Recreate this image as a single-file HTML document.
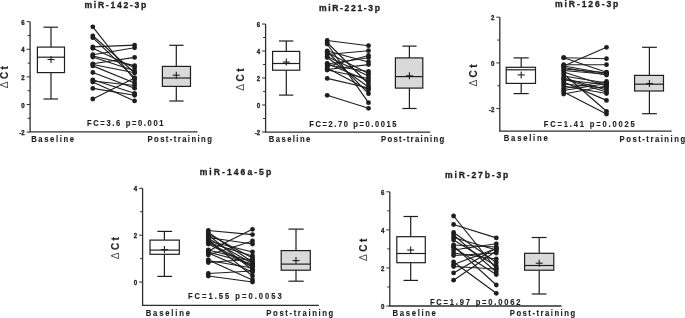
<!DOCTYPE html>
<html><head><meta charset="utf-8"><style>
html,body{margin:0;padding:0;background:#fff;}
body{width:685px;height:318px;overflow:hidden;}
svg{display:block;font-family:"Liberation Sans", sans-serif;will-change:transform;}
text{stroke:#1e1e1e;stroke-width:0.3px;}
text.l{stroke-width:0.12px;}
</style></head><body>
<svg width="685" height="318" viewBox="0 0 685 318">
<rect width="685" height="318" fill="#fff"/>
<line x1="30.1" y1="21.69999999999999" x2="30.1" y2="131.9" stroke="#2e2e2e" stroke-width="1.3"/>
<line x1="29.5" y1="131.9" x2="197.5" y2="131.9" stroke="#2e2e2e" stroke-width="1.3"/>
<line x1="26.6" y1="132.1" x2="30.1" y2="132.1" stroke="#2e2e2e" stroke-width="1"/>
<text transform="translate(24.700000000000003,135.1) scale(1,1.12)" x="0" y="0" font-size="6.1" font-weight="bold" fill="#1e1e1e" text-anchor="end">-2</text>
<line x1="26.6" y1="104.5" x2="30.1" y2="104.5" stroke="#2e2e2e" stroke-width="1"/>
<text transform="translate(24.700000000000003,107.5) scale(1,1.12)" x="0" y="0" font-size="6.1" font-weight="bold" fill="#1e1e1e" text-anchor="end">0</text>
<line x1="26.6" y1="76.9" x2="30.1" y2="76.9" stroke="#2e2e2e" stroke-width="1"/>
<text transform="translate(24.700000000000003,79.9) scale(1,1.12)" x="0" y="0" font-size="6.1" font-weight="bold" fill="#1e1e1e" text-anchor="end">2</text>
<line x1="26.6" y1="49.3" x2="30.1" y2="49.3" stroke="#2e2e2e" stroke-width="1"/>
<text transform="translate(24.700000000000003,52.3) scale(1,1.12)" x="0" y="0" font-size="6.1" font-weight="bold" fill="#1e1e1e" text-anchor="end">4</text>
<line x1="26.6" y1="21.69999999999999" x2="30.1" y2="21.69999999999999" stroke="#2e2e2e" stroke-width="1"/>
<text transform="translate(24.700000000000003,24.69999999999999) scale(1,1.12)" x="0" y="0" font-size="6.1" font-weight="bold" fill="#1e1e1e" text-anchor="end">6</text>
<line x1="27.6" y1="118.3" x2="30.1" y2="118.3" stroke="#2e2e2e" stroke-width="1"/>
<line x1="27.6" y1="90.7" x2="30.1" y2="90.7" stroke="#2e2e2e" stroke-width="1"/>
<line x1="27.6" y1="63.099999999999994" x2="30.1" y2="63.099999999999994" stroke="#2e2e2e" stroke-width="1"/>
<line x1="27.6" y1="35.5" x2="30.1" y2="35.5" stroke="#2e2e2e" stroke-width="1"/>
<line x1="51" y1="27.2" x2="51" y2="47.1" stroke="#1e1e1e" stroke-width="1.2"/>
<line x1="51" y1="72.6" x2="51" y2="99" stroke="#1e1e1e" stroke-width="1.2"/>
<line x1="43.5" y1="27.2" x2="58" y2="27.2" stroke="#1e1e1e" stroke-width="1.2"/>
<line x1="43.5" y1="99" x2="58" y2="99" stroke="#1e1e1e" stroke-width="1.2"/>
<rect x="37.4" y="47.1" width="27.1" height="25.499999999999993" fill="#ffffff" stroke="#1e1e1e" stroke-width="1.2"/>
<line x1="37.4" y1="57.2" x2="64.5" y2="57.2" stroke="#1e1e1e" stroke-width="1.2"/>
<line x1="47.5" y1="59.5" x2="54.5" y2="59.5" stroke="#1e1e1e" stroke-width="1.1"/>
<line x1="51" y1="56.0" x2="51" y2="63.0" stroke="#1e1e1e" stroke-width="1.1"/>
<line x1="176.3" y1="45.3" x2="176.3" y2="66.4" stroke="#1e1e1e" stroke-width="1.2"/>
<line x1="176.3" y1="86.4" x2="176.3" y2="101" stroke="#1e1e1e" stroke-width="1.2"/>
<line x1="169.3" y1="45.3" x2="183.6" y2="45.3" stroke="#1e1e1e" stroke-width="1.2"/>
<line x1="169.3" y1="101" x2="183.6" y2="101" stroke="#1e1e1e" stroke-width="1.2"/>
<rect x="162.4" y="66.4" width="28.099999999999994" height="20.0" fill="#d9d9d9" stroke="#1e1e1e" stroke-width="1.2"/>
<line x1="162.4" y1="78" x2="190.5" y2="78" stroke="#1e1e1e" stroke-width="1.2"/>
<line x1="172.8" y1="75.2" x2="179.8" y2="75.2" stroke="#1e1e1e" stroke-width="1.1"/>
<line x1="176.3" y1="71.7" x2="176.3" y2="78.7" stroke="#1e1e1e" stroke-width="1.1"/>
<line x1="92.8" y1="26.8" x2="134.6" y2="80" stroke="#1e1e1e" stroke-width="1.15"/>
<line x1="92.8" y1="35.8" x2="134.6" y2="72.8" stroke="#1e1e1e" stroke-width="1.15"/>
<line x1="92.8" y1="37.7" x2="134.6" y2="77.9" stroke="#1e1e1e" stroke-width="1.15"/>
<line x1="92.8" y1="46.9" x2="134.6" y2="45.1" stroke="#1e1e1e" stroke-width="1.15"/>
<line x1="92.8" y1="48.3" x2="134.6" y2="67.7" stroke="#1e1e1e" stroke-width="1.15"/>
<line x1="92.8" y1="54.7" x2="134.6" y2="47.8" stroke="#1e1e1e" stroke-width="1.15"/>
<line x1="92.8" y1="57" x2="134.6" y2="70.7" stroke="#1e1e1e" stroke-width="1.15"/>
<line x1="92.8" y1="56" x2="134.6" y2="65.6" stroke="#1e1e1e" stroke-width="1.15"/>
<line x1="92.8" y1="63.8" x2="134.6" y2="57.4" stroke="#1e1e1e" stroke-width="1.15"/>
<line x1="92.8" y1="65.9" x2="134.6" y2="83" stroke="#1e1e1e" stroke-width="1.15"/>
<line x1="92.8" y1="64.5" x2="134.6" y2="72.8" stroke="#1e1e1e" stroke-width="1.15"/>
<line x1="92.8" y1="72.5" x2="134.6" y2="88.2" stroke="#1e1e1e" stroke-width="1.15"/>
<line x1="92.8" y1="79.8" x2="134.6" y2="93.3" stroke="#1e1e1e" stroke-width="1.15"/>
<line x1="92.8" y1="81" x2="134.6" y2="85.5" stroke="#1e1e1e" stroke-width="1.15"/>
<line x1="92.8" y1="82" x2="134.6" y2="100.9" stroke="#1e1e1e" stroke-width="1.15"/>
<line x1="92.8" y1="88.4" x2="134.6" y2="95.3" stroke="#1e1e1e" stroke-width="1.15"/>
<line x1="92.8" y1="99" x2="134.6" y2="77.9" stroke="#1e1e1e" stroke-width="1.15"/>
<circle cx="92.8" cy="26.8" r="2.4" fill="#1e1e1e"/>
<circle cx="134.6" cy="80" r="2.4" fill="#1e1e1e"/>
<circle cx="92.8" cy="35.8" r="2.4" fill="#1e1e1e"/>
<circle cx="134.6" cy="72.8" r="2.4" fill="#1e1e1e"/>
<circle cx="92.8" cy="37.7" r="2.4" fill="#1e1e1e"/>
<circle cx="134.6" cy="77.9" r="2.4" fill="#1e1e1e"/>
<circle cx="92.8" cy="46.9" r="2.4" fill="#1e1e1e"/>
<circle cx="134.6" cy="45.1" r="2.4" fill="#1e1e1e"/>
<circle cx="92.8" cy="48.3" r="2.4" fill="#1e1e1e"/>
<circle cx="134.6" cy="67.7" r="2.4" fill="#1e1e1e"/>
<circle cx="92.8" cy="54.7" r="2.4" fill="#1e1e1e"/>
<circle cx="134.6" cy="47.8" r="2.4" fill="#1e1e1e"/>
<circle cx="92.8" cy="57" r="2.4" fill="#1e1e1e"/>
<circle cx="134.6" cy="70.7" r="2.4" fill="#1e1e1e"/>
<circle cx="92.8" cy="56" r="2.4" fill="#1e1e1e"/>
<circle cx="134.6" cy="65.6" r="2.4" fill="#1e1e1e"/>
<circle cx="92.8" cy="63.8" r="2.4" fill="#1e1e1e"/>
<circle cx="134.6" cy="57.4" r="2.4" fill="#1e1e1e"/>
<circle cx="92.8" cy="65.9" r="2.4" fill="#1e1e1e"/>
<circle cx="134.6" cy="83" r="2.4" fill="#1e1e1e"/>
<circle cx="92.8" cy="64.5" r="2.4" fill="#1e1e1e"/>
<circle cx="134.6" cy="72.8" r="2.4" fill="#1e1e1e"/>
<circle cx="92.8" cy="72.5" r="2.4" fill="#1e1e1e"/>
<circle cx="134.6" cy="88.2" r="2.4" fill="#1e1e1e"/>
<circle cx="92.8" cy="79.8" r="2.4" fill="#1e1e1e"/>
<circle cx="134.6" cy="93.3" r="2.4" fill="#1e1e1e"/>
<circle cx="92.8" cy="81" r="2.4" fill="#1e1e1e"/>
<circle cx="134.6" cy="85.5" r="2.4" fill="#1e1e1e"/>
<circle cx="92.8" cy="82" r="2.4" fill="#1e1e1e"/>
<circle cx="134.6" cy="100.9" r="2.4" fill="#1e1e1e"/>
<circle cx="92.8" cy="88.4" r="2.4" fill="#1e1e1e"/>
<circle cx="134.6" cy="95.3" r="2.4" fill="#1e1e1e"/>
<circle cx="92.8" cy="99" r="2.4" fill="#1e1e1e"/>
<circle cx="134.6" cy="77.9" r="2.4" fill="#1e1e1e"/>
<text transform="translate(84.5,8.1) scale(1,1.08)" x="0" y="0" font-size="8.6" font-weight="bold" fill="#1e1e1e" text-anchor="start" textLength="61.7" lengthAdjust="spacing">miR-142-3p</text>
<text transform="translate(87,125.8) scale(1,1.15)" x="0" y="0" font-size="7.6" font-weight="bold" fill="#1e1e1e" text-anchor="start" textLength="76.5" lengthAdjust="spacing" class="l">FC=3.6 p=0.001</text>
<text transform="translate(31.2,141.9) scale(1,1.15)" x="0" y="0" font-size="7.7" font-weight="bold" fill="#1e1e1e" text-anchor="start" textLength="42.8" lengthAdjust="spacing" class="l">Baseline</text>
<text transform="translate(147.5,141.9) scale(1,1.15)" x="0" y="0" font-size="7.7" font-weight="bold" fill="#1e1e1e" text-anchor="start" textLength="64.4" lengthAdjust="spacing" class="l">Post-training</text>
<g transform="translate(7.8,88.3) rotate(-90)"><text x="0" y="0" font-size="10.4" font-weight="normal" fill="#4a4a4a" style="stroke:none">&#916;</text><text class="l" x="9.2" y="0" font-size="10" font-weight="bold" fill="#1e1e1e">C</text><text class="l" x="18.9" y="0" font-size="10" font-weight="bold" fill="#1e1e1e">t</text></g>
<line x1="265.6" y1="24.0" x2="265.6" y2="132.2" stroke="#2e2e2e" stroke-width="1.3"/>
<line x1="265.0" y1="132.2" x2="430.3" y2="132.2" stroke="#2e2e2e" stroke-width="1.3"/>
<line x1="262.1" y1="132.0" x2="265.6" y2="132.0" stroke="#2e2e2e" stroke-width="1"/>
<text transform="translate(260.20000000000005,135.0) scale(1,1.12)" x="0" y="0" font-size="6.1" font-weight="bold" fill="#1e1e1e" text-anchor="end">-2</text>
<line x1="262.1" y1="105.0" x2="265.6" y2="105.0" stroke="#2e2e2e" stroke-width="1"/>
<text transform="translate(260.20000000000005,108.0) scale(1,1.12)" x="0" y="0" font-size="6.1" font-weight="bold" fill="#1e1e1e" text-anchor="end">0</text>
<line x1="262.1" y1="78.0" x2="265.6" y2="78.0" stroke="#2e2e2e" stroke-width="1"/>
<text transform="translate(260.20000000000005,81.0) scale(1,1.12)" x="0" y="0" font-size="6.1" font-weight="bold" fill="#1e1e1e" text-anchor="end">2</text>
<line x1="262.1" y1="51.0" x2="265.6" y2="51.0" stroke="#2e2e2e" stroke-width="1"/>
<text transform="translate(260.20000000000005,54.0) scale(1,1.12)" x="0" y="0" font-size="6.1" font-weight="bold" fill="#1e1e1e" text-anchor="end">4</text>
<line x1="262.1" y1="24.0" x2="265.6" y2="24.0" stroke="#2e2e2e" stroke-width="1"/>
<text transform="translate(260.20000000000005,27.0) scale(1,1.12)" x="0" y="0" font-size="6.1" font-weight="bold" fill="#1e1e1e" text-anchor="end">6</text>
<line x1="263.1" y1="118.5" x2="265.6" y2="118.5" stroke="#2e2e2e" stroke-width="1"/>
<line x1="263.1" y1="91.5" x2="265.6" y2="91.5" stroke="#2e2e2e" stroke-width="1"/>
<line x1="263.1" y1="64.5" x2="265.6" y2="64.5" stroke="#2e2e2e" stroke-width="1"/>
<line x1="263.1" y1="37.5" x2="265.6" y2="37.5" stroke="#2e2e2e" stroke-width="1"/>
<line x1="286.3" y1="41" x2="286.3" y2="51.4" stroke="#1e1e1e" stroke-width="1.2"/>
<line x1="286.3" y1="70.2" x2="286.3" y2="95.1" stroke="#1e1e1e" stroke-width="1.2"/>
<line x1="279" y1="41" x2="293.3" y2="41" stroke="#1e1e1e" stroke-width="1.2"/>
<line x1="279" y1="95.1" x2="293.3" y2="95.1" stroke="#1e1e1e" stroke-width="1.2"/>
<rect x="272.6" y="51.4" width="27.099999999999966" height="18.800000000000004" fill="#ffffff" stroke="#1e1e1e" stroke-width="1.2"/>
<line x1="272.6" y1="63.5" x2="299.7" y2="63.5" stroke="#1e1e1e" stroke-width="1.2"/>
<line x1="282.8" y1="62.1" x2="289.8" y2="62.1" stroke="#1e1e1e" stroke-width="1.1"/>
<line x1="286.3" y1="58.6" x2="286.3" y2="65.6" stroke="#1e1e1e" stroke-width="1.1"/>
<line x1="409.4" y1="46.1" x2="409.4" y2="57.9" stroke="#1e1e1e" stroke-width="1.2"/>
<line x1="409.4" y1="88.1" x2="409.4" y2="108.5" stroke="#1e1e1e" stroke-width="1.2"/>
<line x1="402.4" y1="46.1" x2="416.6" y2="46.1" stroke="#1e1e1e" stroke-width="1.2"/>
<line x1="402.4" y1="108.5" x2="416.6" y2="108.5" stroke="#1e1e1e" stroke-width="1.2"/>
<rect x="395.4" y="57.9" width="27.400000000000034" height="30.199999999999996" fill="#d9d9d9" stroke="#1e1e1e" stroke-width="1.2"/>
<line x1="395.4" y1="76.6" x2="422.8" y2="76.6" stroke="#1e1e1e" stroke-width="1.2"/>
<line x1="405.9" y1="75.8" x2="412.9" y2="75.8" stroke="#1e1e1e" stroke-width="1.1"/>
<line x1="409.4" y1="72.3" x2="409.4" y2="79.3" stroke="#1e1e1e" stroke-width="1.1"/>
<line x1="327.2" y1="40.5" x2="368.5" y2="45.7" stroke="#1e1e1e" stroke-width="1.15"/>
<line x1="327.2" y1="42.5" x2="368.5" y2="84" stroke="#1e1e1e" stroke-width="1.15"/>
<line x1="327.2" y1="44" x2="368.5" y2="102.7" stroke="#1e1e1e" stroke-width="1.15"/>
<line x1="327.2" y1="51" x2="368.5" y2="62" stroke="#1e1e1e" stroke-width="1.15"/>
<line x1="327.2" y1="51.5" x2="368.5" y2="93.7" stroke="#1e1e1e" stroke-width="1.15"/>
<line x1="327.2" y1="52.5" x2="368.5" y2="73.5" stroke="#1e1e1e" stroke-width="1.15"/>
<line x1="327.2" y1="54.5" x2="368.5" y2="50.7" stroke="#1e1e1e" stroke-width="1.15"/>
<line x1="327.2" y1="56.5" x2="368.5" y2="76" stroke="#1e1e1e" stroke-width="1.15"/>
<line x1="327.2" y1="57.5" x2="368.5" y2="87" stroke="#1e1e1e" stroke-width="1.15"/>
<line x1="327.2" y1="63.5" x2="368.5" y2="81" stroke="#1e1e1e" stroke-width="1.15"/>
<line x1="327.2" y1="64" x2="368.5" y2="57.7" stroke="#1e1e1e" stroke-width="1.15"/>
<line x1="327.2" y1="65" x2="368.5" y2="71.5" stroke="#1e1e1e" stroke-width="1.15"/>
<line x1="327.2" y1="66.5" x2="368.5" y2="55.5" stroke="#1e1e1e" stroke-width="1.15"/>
<line x1="327.2" y1="68" x2="368.5" y2="90" stroke="#1e1e1e" stroke-width="1.15"/>
<line x1="327.2" y1="69.5" x2="368.5" y2="64.6" stroke="#1e1e1e" stroke-width="1.15"/>
<line x1="327.2" y1="70" x2="368.5" y2="78.5" stroke="#1e1e1e" stroke-width="1.15"/>
<line x1="327.2" y1="78.4" x2="368.5" y2="88" stroke="#1e1e1e" stroke-width="1.15"/>
<line x1="327.2" y1="95.3" x2="368.5" y2="108.3" stroke="#1e1e1e" stroke-width="1.15"/>
<circle cx="327.2" cy="40.5" r="2.4" fill="#1e1e1e"/>
<circle cx="368.5" cy="45.7" r="2.4" fill="#1e1e1e"/>
<circle cx="327.2" cy="42.5" r="2.4" fill="#1e1e1e"/>
<circle cx="368.5" cy="84" r="2.4" fill="#1e1e1e"/>
<circle cx="327.2" cy="44" r="2.4" fill="#1e1e1e"/>
<circle cx="368.5" cy="102.7" r="2.4" fill="#1e1e1e"/>
<circle cx="327.2" cy="51" r="2.4" fill="#1e1e1e"/>
<circle cx="368.5" cy="62" r="2.4" fill="#1e1e1e"/>
<circle cx="327.2" cy="51.5" r="2.4" fill="#1e1e1e"/>
<circle cx="368.5" cy="93.7" r="2.4" fill="#1e1e1e"/>
<circle cx="327.2" cy="52.5" r="2.4" fill="#1e1e1e"/>
<circle cx="368.5" cy="73.5" r="2.4" fill="#1e1e1e"/>
<circle cx="327.2" cy="54.5" r="2.4" fill="#1e1e1e"/>
<circle cx="368.5" cy="50.7" r="2.4" fill="#1e1e1e"/>
<circle cx="327.2" cy="56.5" r="2.4" fill="#1e1e1e"/>
<circle cx="368.5" cy="76" r="2.4" fill="#1e1e1e"/>
<circle cx="327.2" cy="57.5" r="2.4" fill="#1e1e1e"/>
<circle cx="368.5" cy="87" r="2.4" fill="#1e1e1e"/>
<circle cx="327.2" cy="63.5" r="2.4" fill="#1e1e1e"/>
<circle cx="368.5" cy="81" r="2.4" fill="#1e1e1e"/>
<circle cx="327.2" cy="64" r="2.4" fill="#1e1e1e"/>
<circle cx="368.5" cy="57.7" r="2.4" fill="#1e1e1e"/>
<circle cx="327.2" cy="65" r="2.4" fill="#1e1e1e"/>
<circle cx="368.5" cy="71.5" r="2.4" fill="#1e1e1e"/>
<circle cx="327.2" cy="66.5" r="2.4" fill="#1e1e1e"/>
<circle cx="368.5" cy="55.5" r="2.4" fill="#1e1e1e"/>
<circle cx="327.2" cy="68" r="2.4" fill="#1e1e1e"/>
<circle cx="368.5" cy="90" r="2.4" fill="#1e1e1e"/>
<circle cx="327.2" cy="69.5" r="2.4" fill="#1e1e1e"/>
<circle cx="368.5" cy="64.6" r="2.4" fill="#1e1e1e"/>
<circle cx="327.2" cy="70" r="2.4" fill="#1e1e1e"/>
<circle cx="368.5" cy="78.5" r="2.4" fill="#1e1e1e"/>
<circle cx="327.2" cy="78.4" r="2.4" fill="#1e1e1e"/>
<circle cx="368.5" cy="88" r="2.4" fill="#1e1e1e"/>
<circle cx="327.2" cy="95.3" r="2.4" fill="#1e1e1e"/>
<circle cx="368.5" cy="108.3" r="2.4" fill="#1e1e1e"/>
<text transform="translate(319,10.9) scale(1,1.08)" x="0" y="0" font-size="8.6" font-weight="bold" fill="#1e1e1e" text-anchor="start" textLength="61" lengthAdjust="spacing">miR-221-3p</text>
<text transform="translate(309.3,126.6) scale(1,1.15)" x="0" y="0" font-size="7.6" font-weight="bold" fill="#1e1e1e" text-anchor="start" textLength="87.2" lengthAdjust="spacing" class="l">FC=2.70 p=0.0015</text>
<text transform="translate(268.8,141.9) scale(1,1.15)" x="0" y="0" font-size="7.7" font-weight="bold" fill="#1e1e1e" text-anchor="start" textLength="41.5" lengthAdjust="spacing" class="l">Baseline</text>
<text transform="translate(381,142.1) scale(1,1.15)" x="0" y="0" font-size="7.7" font-weight="bold" fill="#1e1e1e" text-anchor="start" textLength="63.1" lengthAdjust="spacing" class="l">Post-training</text>
<g transform="translate(243.6,90.7) rotate(-90)"><text x="0" y="0" font-size="10.4" font-weight="normal" fill="#4a4a4a" style="stroke:none">&#916;</text><text class="l" x="9.2" y="0" font-size="10" font-weight="bold" fill="#1e1e1e">C</text><text class="l" x="18.9" y="0" font-size="10" font-weight="bold" fill="#1e1e1e">t</text></g>
<line x1="499.8" y1="17.199999999999996" x2="499.8" y2="131.2" stroke="#2e2e2e" stroke-width="1.3"/>
<line x1="499.2" y1="131.2" x2="671.7" y2="131.2" stroke="#2e2e2e" stroke-width="1.3"/>
<line x1="496.3" y1="108.6" x2="499.8" y2="108.6" stroke="#2e2e2e" stroke-width="1"/>
<text transform="translate(494.40000000000003,111.6) scale(1,1.12)" x="0" y="0" font-size="6.1" font-weight="bold" fill="#1e1e1e" text-anchor="end">-2</text>
<line x1="496.3" y1="62.9" x2="499.8" y2="62.9" stroke="#2e2e2e" stroke-width="1"/>
<text transform="translate(494.40000000000003,65.9) scale(1,1.12)" x="0" y="0" font-size="6.1" font-weight="bold" fill="#1e1e1e" text-anchor="end">0</text>
<line x1="496.3" y1="17.199999999999996" x2="499.8" y2="17.199999999999996" stroke="#2e2e2e" stroke-width="1"/>
<text transform="translate(494.40000000000003,20.199999999999996) scale(1,1.12)" x="0" y="0" font-size="6.1" font-weight="bold" fill="#1e1e1e" text-anchor="end">2</text>
<line x1="497.3" y1="85.75" x2="499.8" y2="85.75" stroke="#2e2e2e" stroke-width="1"/>
<line x1="497.3" y1="40.05" x2="499.8" y2="40.05" stroke="#2e2e2e" stroke-width="1"/>
<line x1="521.2" y1="57.9" x2="521.2" y2="67.3" stroke="#1e1e1e" stroke-width="1.2"/>
<line x1="521.2" y1="83.4" x2="521.2" y2="93.6" stroke="#1e1e1e" stroke-width="1.2"/>
<line x1="513.6" y1="57.9" x2="528.7" y2="57.9" stroke="#1e1e1e" stroke-width="1.2"/>
<line x1="513.6" y1="93.6" x2="528.7" y2="93.6" stroke="#1e1e1e" stroke-width="1.2"/>
<rect x="506.2" y="67.3" width="29.30000000000001" height="16.10000000000001" fill="#ffffff" stroke="#1e1e1e" stroke-width="1.2"/>
<line x1="506.2" y1="69.8" x2="535.5" y2="69.8" stroke="#1e1e1e" stroke-width="1.2"/>
<line x1="517.7" y1="74.9" x2="524.7" y2="74.9" stroke="#1e1e1e" stroke-width="1.1"/>
<line x1="521.2" y1="71.4" x2="521.2" y2="78.4" stroke="#1e1e1e" stroke-width="1.1"/>
<line x1="649.4" y1="47.3" x2="649.4" y2="75.4" stroke="#1e1e1e" stroke-width="1.2"/>
<line x1="649.4" y1="91" x2="649.4" y2="113.7" stroke="#1e1e1e" stroke-width="1.2"/>
<line x1="642.1" y1="47.3" x2="656.9" y2="47.3" stroke="#1e1e1e" stroke-width="1.2"/>
<line x1="642.1" y1="113.7" x2="656.9" y2="113.7" stroke="#1e1e1e" stroke-width="1.2"/>
<rect x="634.6" y="75.4" width="28.899999999999977" height="15.599999999999994" fill="#d9d9d9" stroke="#1e1e1e" stroke-width="1.2"/>
<line x1="634.6" y1="84.2" x2="663.5" y2="84.2" stroke="#1e1e1e" stroke-width="1.2"/>
<line x1="645.9" y1="83.5" x2="652.9" y2="83.5" stroke="#1e1e1e" stroke-width="1.1"/>
<line x1="649.4" y1="80.0" x2="649.4" y2="87.0" stroke="#1e1e1e" stroke-width="1.1"/>
<line x1="563.7" y1="57.7" x2="606.5" y2="58.7" stroke="#1e1e1e" stroke-width="1.15"/>
<line x1="563.7" y1="57.7" x2="606.5" y2="72.2" stroke="#1e1e1e" stroke-width="1.15"/>
<line x1="563.7" y1="66" x2="606.5" y2="47.3" stroke="#1e1e1e" stroke-width="1.15"/>
<line x1="563.7" y1="64.7" x2="606.5" y2="64.7" stroke="#1e1e1e" stroke-width="1.15"/>
<line x1="563.7" y1="66" x2="606.5" y2="73.5" stroke="#1e1e1e" stroke-width="1.15"/>
<line x1="563.7" y1="67.5" x2="606.5" y2="75" stroke="#1e1e1e" stroke-width="1.15"/>
<line x1="563.7" y1="69" x2="606.5" y2="72.8" stroke="#1e1e1e" stroke-width="1.15"/>
<line x1="563.7" y1="70.5" x2="606.5" y2="74.2" stroke="#1e1e1e" stroke-width="1.15"/>
<line x1="563.7" y1="72" x2="606.5" y2="86" stroke="#1e1e1e" stroke-width="1.15"/>
<line x1="563.7" y1="74" x2="606.5" y2="111.3" stroke="#1e1e1e" stroke-width="1.15"/>
<line x1="563.7" y1="76" x2="606.5" y2="83" stroke="#1e1e1e" stroke-width="1.15"/>
<line x1="563.7" y1="78" x2="606.5" y2="90" stroke="#1e1e1e" stroke-width="1.15"/>
<line x1="563.7" y1="80" x2="606.5" y2="84.5" stroke="#1e1e1e" stroke-width="1.15"/>
<line x1="563.7" y1="82" x2="606.5" y2="100.4" stroke="#1e1e1e" stroke-width="1.15"/>
<line x1="563.7" y1="84" x2="606.5" y2="88" stroke="#1e1e1e" stroke-width="1.15"/>
<line x1="563.7" y1="88.5" x2="606.5" y2="81.5" stroke="#1e1e1e" stroke-width="1.15"/>
<line x1="563.7" y1="90.5" x2="606.5" y2="83.5" stroke="#1e1e1e" stroke-width="1.15"/>
<line x1="563.7" y1="92" x2="606.5" y2="114" stroke="#1e1e1e" stroke-width="1.15"/>
<line x1="563.7" y1="94" x2="606.5" y2="86" stroke="#1e1e1e" stroke-width="1.15"/>
<line x1="563.7" y1="86" x2="606.5" y2="93.5" stroke="#1e1e1e" stroke-width="1.15"/>
<line x1="563.7" y1="79" x2="606.5" y2="92" stroke="#1e1e1e" stroke-width="1.15"/>
<circle cx="563.7" cy="57.7" r="2.4" fill="#1e1e1e"/>
<circle cx="606.5" cy="58.7" r="2.4" fill="#1e1e1e"/>
<circle cx="563.7" cy="57.7" r="2.4" fill="#1e1e1e"/>
<circle cx="606.5" cy="72.2" r="2.4" fill="#1e1e1e"/>
<circle cx="563.7" cy="66" r="2.4" fill="#1e1e1e"/>
<circle cx="606.5" cy="47.3" r="2.4" fill="#1e1e1e"/>
<circle cx="563.7" cy="64.7" r="2.4" fill="#1e1e1e"/>
<circle cx="606.5" cy="64.7" r="2.4" fill="#1e1e1e"/>
<circle cx="563.7" cy="66" r="2.4" fill="#1e1e1e"/>
<circle cx="606.5" cy="73.5" r="2.4" fill="#1e1e1e"/>
<circle cx="563.7" cy="67.5" r="2.4" fill="#1e1e1e"/>
<circle cx="606.5" cy="75" r="2.4" fill="#1e1e1e"/>
<circle cx="563.7" cy="69" r="2.4" fill="#1e1e1e"/>
<circle cx="606.5" cy="72.8" r="2.4" fill="#1e1e1e"/>
<circle cx="563.7" cy="70.5" r="2.4" fill="#1e1e1e"/>
<circle cx="606.5" cy="74.2" r="2.4" fill="#1e1e1e"/>
<circle cx="563.7" cy="72" r="2.4" fill="#1e1e1e"/>
<circle cx="606.5" cy="86" r="2.4" fill="#1e1e1e"/>
<circle cx="563.7" cy="74" r="2.4" fill="#1e1e1e"/>
<circle cx="606.5" cy="111.3" r="2.4" fill="#1e1e1e"/>
<circle cx="563.7" cy="76" r="2.4" fill="#1e1e1e"/>
<circle cx="606.5" cy="83" r="2.4" fill="#1e1e1e"/>
<circle cx="563.7" cy="78" r="2.4" fill="#1e1e1e"/>
<circle cx="606.5" cy="90" r="2.4" fill="#1e1e1e"/>
<circle cx="563.7" cy="80" r="2.4" fill="#1e1e1e"/>
<circle cx="606.5" cy="84.5" r="2.4" fill="#1e1e1e"/>
<circle cx="563.7" cy="82" r="2.4" fill="#1e1e1e"/>
<circle cx="606.5" cy="100.4" r="2.4" fill="#1e1e1e"/>
<circle cx="563.7" cy="84" r="2.4" fill="#1e1e1e"/>
<circle cx="606.5" cy="88" r="2.4" fill="#1e1e1e"/>
<circle cx="563.7" cy="88.5" r="2.4" fill="#1e1e1e"/>
<circle cx="606.5" cy="81.5" r="2.4" fill="#1e1e1e"/>
<circle cx="563.7" cy="90.5" r="2.4" fill="#1e1e1e"/>
<circle cx="606.5" cy="83.5" r="2.4" fill="#1e1e1e"/>
<circle cx="563.7" cy="92" r="2.4" fill="#1e1e1e"/>
<circle cx="606.5" cy="114" r="2.4" fill="#1e1e1e"/>
<circle cx="563.7" cy="94" r="2.4" fill="#1e1e1e"/>
<circle cx="606.5" cy="86" r="2.4" fill="#1e1e1e"/>
<circle cx="563.7" cy="86" r="2.4" fill="#1e1e1e"/>
<circle cx="606.5" cy="93.5" r="2.4" fill="#1e1e1e"/>
<circle cx="563.7" cy="79" r="2.4" fill="#1e1e1e"/>
<circle cx="606.5" cy="92" r="2.4" fill="#1e1e1e"/>
<text transform="translate(555.1,6.5) scale(1,1.08)" x="0" y="0" font-size="8.6" font-weight="bold" fill="#1e1e1e" text-anchor="start" textLength="63.2" lengthAdjust="spacing">miR-126-3p</text>
<text transform="translate(543.7,126.6) scale(1,1.15)" x="0" y="0" font-size="7.6" font-weight="bold" fill="#1e1e1e" text-anchor="start" textLength="91.1" lengthAdjust="spacing" class="l">FC=1.41 p=0.0025</text>
<text transform="translate(503.8,141.4) scale(1,1.15)" x="0" y="0" font-size="7.7" font-weight="bold" fill="#1e1e1e" text-anchor="start" textLength="43.9" lengthAdjust="spacing" class="l">Baseline</text>
<text transform="translate(619.6,141.5) scale(1,1.15)" x="0" y="0" font-size="7.7" font-weight="bold" fill="#1e1e1e" text-anchor="start" textLength="65.5" lengthAdjust="spacing" class="l">Post-training</text>
<g transform="translate(476.5,86.6) rotate(-90)"><text x="0" y="0" font-size="10.4" font-weight="normal" fill="#4a4a4a" style="stroke:none">&#916;</text><text class="l" x="9.2" y="0" font-size="10" font-weight="bold" fill="#1e1e1e">C</text><text class="l" x="18.9" y="0" font-size="10" font-weight="bold" fill="#1e1e1e">t</text></g>
<line x1="142.6" y1="188.3" x2="142.6" y2="305.3" stroke="#2e2e2e" stroke-width="1.3"/>
<line x1="142.0" y1="305.3" x2="318.9" y2="305.3" stroke="#2e2e2e" stroke-width="1.3"/>
<line x1="139.1" y1="282.1" x2="142.6" y2="282.1" stroke="#2e2e2e" stroke-width="1"/>
<text transform="translate(137.2,285.1) scale(1,1.12)" x="0" y="0" font-size="6.1" font-weight="bold" fill="#1e1e1e" text-anchor="end">0</text>
<line x1="139.1" y1="235.20000000000002" x2="142.6" y2="235.20000000000002" stroke="#2e2e2e" stroke-width="1"/>
<text transform="translate(137.2,238.20000000000002) scale(1,1.12)" x="0" y="0" font-size="6.1" font-weight="bold" fill="#1e1e1e" text-anchor="end">2</text>
<line x1="139.1" y1="188.3" x2="142.6" y2="188.3" stroke="#2e2e2e" stroke-width="1"/>
<text transform="translate(137.2,191.3) scale(1,1.12)" x="0" y="0" font-size="6.1" font-weight="bold" fill="#1e1e1e" text-anchor="end">4</text>
<line x1="140.1" y1="258.65000000000003" x2="142.6" y2="258.65000000000003" stroke="#2e2e2e" stroke-width="1"/>
<line x1="140.1" y1="211.75000000000003" x2="142.6" y2="211.75000000000003" stroke="#2e2e2e" stroke-width="1"/>
<line x1="164.4" y1="231.4" x2="164.4" y2="240.1" stroke="#1e1e1e" stroke-width="1.2"/>
<line x1="164.4" y1="254.3" x2="164.4" y2="276.4" stroke="#1e1e1e" stroke-width="1.2"/>
<line x1="157.4" y1="231.4" x2="172.1" y2="231.4" stroke="#1e1e1e" stroke-width="1.2"/>
<line x1="157.4" y1="276.4" x2="172.1" y2="276.4" stroke="#1e1e1e" stroke-width="1.2"/>
<rect x="150" y="240.1" width="29.30000000000001" height="14.200000000000017" fill="#ffffff" stroke="#1e1e1e" stroke-width="1.2"/>
<line x1="150" y1="250.1" x2="179.3" y2="250.1" stroke="#1e1e1e" stroke-width="1.2"/>
<line x1="160.9" y1="249.6" x2="167.9" y2="249.6" stroke="#1e1e1e" stroke-width="1.1"/>
<line x1="164.4" y1="246.1" x2="164.4" y2="253.1" stroke="#1e1e1e" stroke-width="1.1"/>
<line x1="296" y1="229.1" x2="296" y2="250.6" stroke="#1e1e1e" stroke-width="1.2"/>
<line x1="296" y1="270.2" x2="296" y2="281.2" stroke="#1e1e1e" stroke-width="1.2"/>
<line x1="288.4" y1="229.1" x2="303.7" y2="229.1" stroke="#1e1e1e" stroke-width="1.2"/>
<line x1="288.4" y1="281.2" x2="303.7" y2="281.2" stroke="#1e1e1e" stroke-width="1.2"/>
<rect x="281.2" y="250.6" width="29.100000000000023" height="19.599999999999994" fill="#d9d9d9" stroke="#1e1e1e" stroke-width="1.2"/>
<line x1="281.2" y1="264.1" x2="310.3" y2="264.1" stroke="#1e1e1e" stroke-width="1.2"/>
<line x1="292.5" y1="260.6" x2="299.5" y2="260.6" stroke="#1e1e1e" stroke-width="1.1"/>
<line x1="296" y1="257.1" x2="296" y2="264.1" stroke="#1e1e1e" stroke-width="1.1"/>
<line x1="208.3" y1="230.5" x2="252.5" y2="234.6" stroke="#1e1e1e" stroke-width="1.15"/>
<line x1="208.3" y1="232.5" x2="252.5" y2="262" stroke="#1e1e1e" stroke-width="1.15"/>
<line x1="208.3" y1="235" x2="252.5" y2="270" stroke="#1e1e1e" stroke-width="1.15"/>
<line x1="208.3" y1="237.5" x2="252.5" y2="244" stroke="#1e1e1e" stroke-width="1.15"/>
<line x1="208.3" y1="240" x2="252.5" y2="276" stroke="#1e1e1e" stroke-width="1.15"/>
<line x1="208.3" y1="242.5" x2="252.5" y2="256" stroke="#1e1e1e" stroke-width="1.15"/>
<line x1="208.3" y1="242.5" x2="252.5" y2="266" stroke="#1e1e1e" stroke-width="1.15"/>
<line x1="208.3" y1="241" x2="252.5" y2="252" stroke="#1e1e1e" stroke-width="1.15"/>
<line x1="208.3" y1="251" x2="252.5" y2="229.3" stroke="#1e1e1e" stroke-width="1.15"/>
<line x1="208.3" y1="253" x2="252.5" y2="272" stroke="#1e1e1e" stroke-width="1.15"/>
<line x1="208.3" y1="255" x2="252.5" y2="241" stroke="#1e1e1e" stroke-width="1.15"/>
<line x1="208.3" y1="252" x2="252.5" y2="264" stroke="#1e1e1e" stroke-width="1.15"/>
<line x1="208.3" y1="260" x2="252.5" y2="280" stroke="#1e1e1e" stroke-width="1.15"/>
<line x1="208.3" y1="262.5" x2="252.5" y2="259" stroke="#1e1e1e" stroke-width="1.15"/>
<line x1="208.3" y1="260.5" x2="252.5" y2="268" stroke="#1e1e1e" stroke-width="1.15"/>
<line x1="208.3" y1="273.5" x2="252.5" y2="271" stroke="#1e1e1e" stroke-width="1.15"/>
<line x1="208.3" y1="276" x2="252.5" y2="282" stroke="#1e1e1e" stroke-width="1.15"/>
<line x1="208.3" y1="238.5" x2="252.5" y2="263.5" stroke="#1e1e1e" stroke-width="1.15"/>
<line x1="208.3" y1="244" x2="252.5" y2="267" stroke="#1e1e1e" stroke-width="1.15"/>
<line x1="208.3" y1="250" x2="252.5" y2="261" stroke="#1e1e1e" stroke-width="1.15"/>
<line x1="208.3" y1="234" x2="252.5" y2="258" stroke="#1e1e1e" stroke-width="1.15"/>
<circle cx="208.3" cy="230.5" r="2.4" fill="#1e1e1e"/>
<circle cx="252.5" cy="234.6" r="2.4" fill="#1e1e1e"/>
<circle cx="208.3" cy="232.5" r="2.4" fill="#1e1e1e"/>
<circle cx="252.5" cy="262" r="2.4" fill="#1e1e1e"/>
<circle cx="208.3" cy="235" r="2.4" fill="#1e1e1e"/>
<circle cx="252.5" cy="270" r="2.4" fill="#1e1e1e"/>
<circle cx="208.3" cy="237.5" r="2.4" fill="#1e1e1e"/>
<circle cx="252.5" cy="244" r="2.4" fill="#1e1e1e"/>
<circle cx="208.3" cy="240" r="2.4" fill="#1e1e1e"/>
<circle cx="252.5" cy="276" r="2.4" fill="#1e1e1e"/>
<circle cx="208.3" cy="242.5" r="2.4" fill="#1e1e1e"/>
<circle cx="252.5" cy="256" r="2.4" fill="#1e1e1e"/>
<circle cx="208.3" cy="242.5" r="2.4" fill="#1e1e1e"/>
<circle cx="252.5" cy="266" r="2.4" fill="#1e1e1e"/>
<circle cx="208.3" cy="241" r="2.4" fill="#1e1e1e"/>
<circle cx="252.5" cy="252" r="2.4" fill="#1e1e1e"/>
<circle cx="208.3" cy="251" r="2.4" fill="#1e1e1e"/>
<circle cx="252.5" cy="229.3" r="2.4" fill="#1e1e1e"/>
<circle cx="208.3" cy="253" r="2.4" fill="#1e1e1e"/>
<circle cx="252.5" cy="272" r="2.4" fill="#1e1e1e"/>
<circle cx="208.3" cy="255" r="2.4" fill="#1e1e1e"/>
<circle cx="252.5" cy="241" r="2.4" fill="#1e1e1e"/>
<circle cx="208.3" cy="252" r="2.4" fill="#1e1e1e"/>
<circle cx="252.5" cy="264" r="2.4" fill="#1e1e1e"/>
<circle cx="208.3" cy="260" r="2.4" fill="#1e1e1e"/>
<circle cx="252.5" cy="280" r="2.4" fill="#1e1e1e"/>
<circle cx="208.3" cy="262.5" r="2.4" fill="#1e1e1e"/>
<circle cx="252.5" cy="259" r="2.4" fill="#1e1e1e"/>
<circle cx="208.3" cy="260.5" r="2.4" fill="#1e1e1e"/>
<circle cx="252.5" cy="268" r="2.4" fill="#1e1e1e"/>
<circle cx="208.3" cy="273.5" r="2.4" fill="#1e1e1e"/>
<circle cx="252.5" cy="271" r="2.4" fill="#1e1e1e"/>
<circle cx="208.3" cy="276" r="2.4" fill="#1e1e1e"/>
<circle cx="252.5" cy="282" r="2.4" fill="#1e1e1e"/>
<circle cx="208.3" cy="238.5" r="2.4" fill="#1e1e1e"/>
<circle cx="252.5" cy="263.5" r="2.4" fill="#1e1e1e"/>
<circle cx="208.3" cy="244" r="2.4" fill="#1e1e1e"/>
<circle cx="252.5" cy="267" r="2.4" fill="#1e1e1e"/>
<circle cx="208.3" cy="250" r="2.4" fill="#1e1e1e"/>
<circle cx="252.5" cy="261" r="2.4" fill="#1e1e1e"/>
<circle cx="208.3" cy="234" r="2.4" fill="#1e1e1e"/>
<circle cx="252.5" cy="258" r="2.4" fill="#1e1e1e"/>
<text transform="translate(199.7,174.5) scale(1,1.08)" x="0" y="0" font-size="8.6" font-weight="bold" fill="#1e1e1e" text-anchor="start" textLength="71.5" lengthAdjust="spacing">miR-146a-5p</text>
<text transform="translate(187.9,298.7) scale(1,1.15)" x="0" y="0" font-size="7.6" font-weight="bold" fill="#1e1e1e" text-anchor="start" textLength="93.8" lengthAdjust="spacing" class="l">FC=1.55 p=0.0053</text>
<text transform="translate(145.7,315.5) scale(1,1.15)" x="0" y="0" font-size="7.7" font-weight="bold" fill="#1e1e1e" text-anchor="start" textLength="44.3" lengthAdjust="spacing" class="l">Baseline</text>
<text transform="translate(266.3,315.7) scale(1,1.15)" x="0" y="0" font-size="7.7" font-weight="bold" fill="#1e1e1e" text-anchor="start" textLength="67" lengthAdjust="spacing" class="l">Post-training</text>
<g transform="translate(119.3,259.3) rotate(-90)"><text x="0" y="0" font-size="10.4" font-weight="normal" fill="#4a4a4a" style="stroke:none">&#916;</text><text class="l" x="9.2" y="0" font-size="10" font-weight="bold" fill="#1e1e1e">C</text><text class="l" x="18.9" y="0" font-size="10" font-weight="bold" fill="#1e1e1e">t</text></g>
<line x1="389.8" y1="191.82" x2="389.8" y2="306" stroke="#2e2e2e" stroke-width="1.3"/>
<line x1="389.2" y1="306" x2="561.5" y2="306" stroke="#2e2e2e" stroke-width="1.3"/>
<line x1="386.3" y1="306.0" x2="389.8" y2="306.0" stroke="#2e2e2e" stroke-width="1"/>
<text transform="translate(384.40000000000003,309.0) scale(1,1.12)" x="0" y="0" font-size="6.1" font-weight="bold" fill="#1e1e1e" text-anchor="end">0</text>
<line x1="386.3" y1="267.94" x2="389.8" y2="267.94" stroke="#2e2e2e" stroke-width="1"/>
<text transform="translate(384.40000000000003,270.94) scale(1,1.12)" x="0" y="0" font-size="6.1" font-weight="bold" fill="#1e1e1e" text-anchor="end">2</text>
<line x1="386.3" y1="229.88" x2="389.8" y2="229.88" stroke="#2e2e2e" stroke-width="1"/>
<text transform="translate(384.40000000000003,232.88) scale(1,1.12)" x="0" y="0" font-size="6.1" font-weight="bold" fill="#1e1e1e" text-anchor="end">4</text>
<line x1="386.3" y1="191.82" x2="389.8" y2="191.82" stroke="#2e2e2e" stroke-width="1"/>
<text transform="translate(384.40000000000003,194.82) scale(1,1.12)" x="0" y="0" font-size="6.1" font-weight="bold" fill="#1e1e1e" text-anchor="end">6</text>
<line x1="387.3" y1="286.97" x2="389.8" y2="286.97" stroke="#2e2e2e" stroke-width="1"/>
<line x1="387.3" y1="248.91" x2="389.8" y2="248.91" stroke="#2e2e2e" stroke-width="1"/>
<line x1="387.3" y1="210.85" x2="389.8" y2="210.85" stroke="#2e2e2e" stroke-width="1"/>
<line x1="410.7" y1="216.5" x2="410.7" y2="236.7" stroke="#1e1e1e" stroke-width="1.2"/>
<line x1="410.7" y1="262.7" x2="410.7" y2="280.4" stroke="#1e1e1e" stroke-width="1.2"/>
<line x1="403.5" y1="216.5" x2="418" y2="216.5" stroke="#1e1e1e" stroke-width="1.2"/>
<line x1="403.5" y1="280.4" x2="418" y2="280.4" stroke="#1e1e1e" stroke-width="1.2"/>
<rect x="396.8" y="236.7" width="28.5" height="26.0" fill="#ffffff" stroke="#1e1e1e" stroke-width="1.2"/>
<line x1="396.8" y1="253.5" x2="425.3" y2="253.5" stroke="#1e1e1e" stroke-width="1.2"/>
<line x1="407.2" y1="250" x2="414.2" y2="250" stroke="#1e1e1e" stroke-width="1.1"/>
<line x1="410.7" y1="246.5" x2="410.7" y2="253.5" stroke="#1e1e1e" stroke-width="1.1"/>
<line x1="539.2" y1="237.5" x2="539.2" y2="253.3" stroke="#1e1e1e" stroke-width="1.2"/>
<line x1="539.2" y1="270.2" x2="539.2" y2="294" stroke="#1e1e1e" stroke-width="1.2"/>
<line x1="531.7" y1="237.5" x2="546.5" y2="237.5" stroke="#1e1e1e" stroke-width="1.2"/>
<line x1="531.7" y1="294" x2="546.5" y2="294" stroke="#1e1e1e" stroke-width="1.2"/>
<rect x="524.6" y="253.3" width="29.199999999999932" height="16.899999999999977" fill="#d9d9d9" stroke="#1e1e1e" stroke-width="1.2"/>
<line x1="524.6" y1="265.5" x2="553.8" y2="265.5" stroke="#1e1e1e" stroke-width="1.2"/>
<line x1="535.7" y1="263.2" x2="542.7" y2="263.2" stroke="#1e1e1e" stroke-width="1.1"/>
<line x1="539.2" y1="259.7" x2="539.2" y2="266.7" stroke="#1e1e1e" stroke-width="1.1"/>
<line x1="453.6" y1="216" x2="496.3" y2="269" stroke="#1e1e1e" stroke-width="1.15"/>
<line x1="453.6" y1="224.5" x2="496.3" y2="237.9" stroke="#1e1e1e" stroke-width="1.15"/>
<line x1="453.6" y1="232.5" x2="496.3" y2="262.5" stroke="#1e1e1e" stroke-width="1.15"/>
<line x1="453.6" y1="235" x2="496.3" y2="272" stroke="#1e1e1e" stroke-width="1.15"/>
<line x1="453.6" y1="237.5" x2="496.3" y2="250" stroke="#1e1e1e" stroke-width="1.15"/>
<line x1="453.6" y1="240" x2="496.3" y2="266" stroke="#1e1e1e" stroke-width="1.15"/>
<line x1="453.6" y1="245" x2="496.3" y2="247" stroke="#1e1e1e" stroke-width="1.15"/>
<line x1="453.6" y1="247.5" x2="496.3" y2="274.6" stroke="#1e1e1e" stroke-width="1.15"/>
<line x1="453.6" y1="250" x2="496.3" y2="243.8" stroke="#1e1e1e" stroke-width="1.15"/>
<line x1="453.6" y1="253" x2="496.3" y2="259" stroke="#1e1e1e" stroke-width="1.15"/>
<line x1="453.6" y1="255.5" x2="496.3" y2="253" stroke="#1e1e1e" stroke-width="1.15"/>
<line x1="453.6" y1="246" x2="496.3" y2="285" stroke="#1e1e1e" stroke-width="1.15"/>
<line x1="453.6" y1="262" x2="496.3" y2="293.3" stroke="#1e1e1e" stroke-width="1.15"/>
<line x1="453.6" y1="264.5" x2="496.3" y2="248.5" stroke="#1e1e1e" stroke-width="1.15"/>
<line x1="453.6" y1="266.5" x2="496.3" y2="269" stroke="#1e1e1e" stroke-width="1.15"/>
<line x1="453.6" y1="272.9" x2="496.3" y2="248" stroke="#1e1e1e" stroke-width="1.15"/>
<line x1="453.6" y1="280.2" x2="496.3" y2="251" stroke="#1e1e1e" stroke-width="1.15"/>
<circle cx="453.6" cy="216" r="2.4" fill="#1e1e1e"/>
<circle cx="496.3" cy="269" r="2.4" fill="#1e1e1e"/>
<circle cx="453.6" cy="224.5" r="2.4" fill="#1e1e1e"/>
<circle cx="496.3" cy="237.9" r="2.4" fill="#1e1e1e"/>
<circle cx="453.6" cy="232.5" r="2.4" fill="#1e1e1e"/>
<circle cx="496.3" cy="262.5" r="2.4" fill="#1e1e1e"/>
<circle cx="453.6" cy="235" r="2.4" fill="#1e1e1e"/>
<circle cx="496.3" cy="272" r="2.4" fill="#1e1e1e"/>
<circle cx="453.6" cy="237.5" r="2.4" fill="#1e1e1e"/>
<circle cx="496.3" cy="250" r="2.4" fill="#1e1e1e"/>
<circle cx="453.6" cy="240" r="2.4" fill="#1e1e1e"/>
<circle cx="496.3" cy="266" r="2.4" fill="#1e1e1e"/>
<circle cx="453.6" cy="245" r="2.4" fill="#1e1e1e"/>
<circle cx="496.3" cy="247" r="2.4" fill="#1e1e1e"/>
<circle cx="453.6" cy="247.5" r="2.4" fill="#1e1e1e"/>
<circle cx="496.3" cy="274.6" r="2.4" fill="#1e1e1e"/>
<circle cx="453.6" cy="250" r="2.4" fill="#1e1e1e"/>
<circle cx="496.3" cy="243.8" r="2.4" fill="#1e1e1e"/>
<circle cx="453.6" cy="253" r="2.4" fill="#1e1e1e"/>
<circle cx="496.3" cy="259" r="2.4" fill="#1e1e1e"/>
<circle cx="453.6" cy="255.5" r="2.4" fill="#1e1e1e"/>
<circle cx="496.3" cy="253" r="2.4" fill="#1e1e1e"/>
<circle cx="453.6" cy="246" r="2.4" fill="#1e1e1e"/>
<circle cx="496.3" cy="285" r="2.4" fill="#1e1e1e"/>
<circle cx="453.6" cy="262" r="2.4" fill="#1e1e1e"/>
<circle cx="496.3" cy="293.3" r="2.4" fill="#1e1e1e"/>
<circle cx="453.6" cy="264.5" r="2.4" fill="#1e1e1e"/>
<circle cx="496.3" cy="248.5" r="2.4" fill="#1e1e1e"/>
<circle cx="453.6" cy="266.5" r="2.4" fill="#1e1e1e"/>
<circle cx="496.3" cy="269" r="2.4" fill="#1e1e1e"/>
<circle cx="453.6" cy="272.9" r="2.4" fill="#1e1e1e"/>
<circle cx="496.3" cy="248" r="2.4" fill="#1e1e1e"/>
<circle cx="453.6" cy="280.2" r="2.4" fill="#1e1e1e"/>
<circle cx="496.3" cy="251" r="2.4" fill="#1e1e1e"/>
<text transform="translate(445.1,177.6) scale(1,1.08)" x="0" y="0" font-size="8.6" font-weight="bold" fill="#1e1e1e" text-anchor="start" textLength="63.2" lengthAdjust="spacing">miR-27b-3p</text>
<text transform="translate(429.9,305.1) scale(1,1.15)" x="0" y="0" font-size="7.6" font-weight="bold" fill="#1e1e1e" text-anchor="start" textLength="90.6" lengthAdjust="spacing" class="l">FC=1.97 p=0.0062</text>
<text transform="translate(392.6,315.8) scale(1,1.15)" x="0" y="0" font-size="7.7" font-weight="bold" fill="#1e1e1e" text-anchor="start" textLength="43.3" lengthAdjust="spacing" class="l">Baseline</text>
<text transform="translate(509.8,315.8) scale(1,1.15)" x="0" y="0" font-size="7.7" font-weight="bold" fill="#1e1e1e" text-anchor="start" textLength="65.3" lengthAdjust="spacing" class="l">Post-training</text>
<g transform="translate(366.5,260.9) rotate(-90)"><text x="0" y="0" font-size="10.4" font-weight="normal" fill="#4a4a4a" style="stroke:none">&#916;</text><text class="l" x="9.2" y="0" font-size="10" font-weight="bold" fill="#1e1e1e">C</text><text class="l" x="18.9" y="0" font-size="10" font-weight="bold" fill="#1e1e1e">t</text></g>
</svg></body></html>
